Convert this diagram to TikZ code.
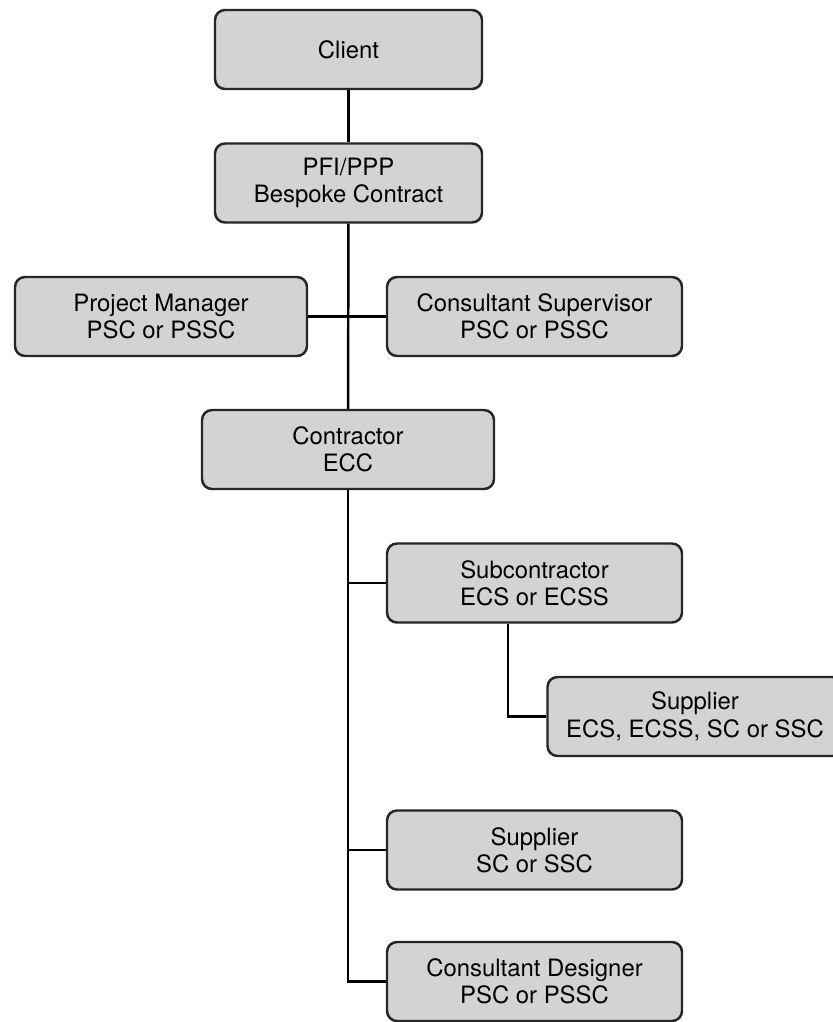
\documentclass[tikz,border=0pt]{standalone}
\usepackage{fontspec}
\setmainfont{TeX Gyre Heros}
\definecolor{boxgray}{RGB}{210,211,213}
\begin{document}
\begin{tikzpicture}[line width=1.4pt,
  box/.style={draw=black!85, fill=boxgray, rounded corners=0.2cm, align=center,
    minimum height=1.58cm, inner sep=0pt,
    font=\fontsize{13.6}{15.6}\selectfont},
  wide/.style={box, minimum width=5.9cm}]
\useasboundingbox (0,0) rectangle (16.66,-20.44);

\node [box, minimum width=5.34cm] (client) at (6.97,-0.99) {Client};
\node [box, minimum width=5.34cm] (pfi) at (6.97,-3.66) {PFI/PPP\\Bespoke Contract};
\node [box, minimum width=5.84cm] (pm) at (3.22,-6.33) {Project Manager\\PSC or PSSC};
\node [wide] (cs) at (10.69,-6.33) {Consultant Supervisor\\PSC or PSSC};
\node [box, minimum width=5.84cm] (contractor) at (6.96,-8.99) {Contractor\\ECC};

\node [wide] (sub) at (10.69,-11.66) {Subcontractor\\ECS or ECSS};
\node [wide] (sup1) at (13.9,-14.33) {Supplier\\ECS, ECSS, SC or SSC};
\node [wide] (sup2) at (10.69,-17.0) {Supplier\\SC or SSC};
\node [wide] (cd) at (10.69,-19.63) {Consultant Designer\\PSC or PSSC};

% main spine
\draw (client) -- (pfi);
\draw (pfi) -- (contractor);
\draw (pm) -- (cs);

% contractor branches
\draw (contractor.south) |- (cd.west);
\draw (contractor.south |- sub.west) -- (sub.west);
\draw (contractor.south |- sup2.west) -- (sup2.west);

\coordinate (subdrop) at ([xshift=-0.53cm]sub.south);
\draw (subdrop) |- (sup1.west);
\end{tikzpicture}
\end{document}
